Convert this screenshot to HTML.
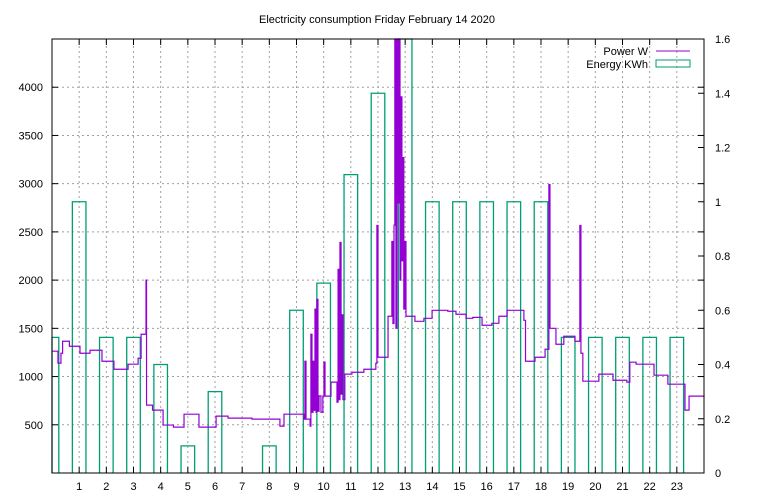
<!DOCTYPE html>
<html><head><meta charset="utf-8"><style>
body{margin:0;background:#fff}
svg{display:block;font-family:"Liberation Sans",sans-serif;font-size:11px}
</style></head><body>
<svg id="chart" width="768" height="500">
<text x="377" y="23" text-anchor="middle">Electricity consumption Friday February 14 2020</text>
<g id="grid"></g>
<g id="bars"></g>
<g id="line"></g>
<rect x="52" y="39" width="652" height="434" fill="none" stroke="#000" stroke-width="1"/>
<g id="axes"></g>
<g>
<text x="648" y="55" text-anchor="end">Power W</text>
<line x1="656" y1="51" x2="690" y2="51" stroke="#9400d3" stroke-width="1"/>
<text x="648" y="68" text-anchor="end">Energy KWh</text>
<rect x="656" y="60" width="34" height="7" fill="none" stroke="#009e73" stroke-width="1"/>
</g>
</svg>
<script>
const hours=[0,1,2,3,4,5,6,7,8,9,10,11,12,13,14,15,16,17,18,19,20,21,22,23];
const energy=[0.5,1.0,0.5,0.5,0.4,0.1,0.3,0,0.1,0.6,0.7,1.1,1.4,1.7,1.0,1.0,1.0,1.0,1.0,0.5,0.5,0.5,0.5,0.5];
const powerTimes=[0.00,0.22,0.33,0.39,0.64,1.03,1.40,1.84,2.28,2.80,3.17,3.28,3.46,3.48,3.70,4.09,4.47,4.86,5.41,6.04,6.48,7.36,8.39,8.54,9.27,9.31,9.35,9.50,9.53,9.57,9.61,9.64,9.68,9.72,9.75,9.79,9.83,9.90,9.97,10.01,10.05,10.27,10.49,10.53,10.57,10.60,10.64,10.67,10.71,10.78,11.04,11.48,11.92,11.96,12.00,12.37,12.51,12.55,12.59,12.62,12.66,12.70,12.73,12.77,12.81,12.84,12.88,12.92,12.95,12.99,13.03,13.36,13.69,13.99,14.57,14.87,15.24,15.49,15.83,16.19,16.45,16.75,17.37,17.43,17.78,18.15,18.29,18.33,18.55,18.84,19.25,19.43,19.47,19.54,20.13,20.65,21.16,21.27,21.50,22.16,22.67,23.30,23.45,24.00];
const powerWatts=[1263,1139,1242,1366,1314,1242,1273,1159,1076,1128,1190,1439,2000,704,652,497,476,610,476,590,569,559,486,610,559,1159,559,486,1439,630,1159,650,1700,630,1800,640,800,630,797,1150,797,942,735,2111,760,2390,818,1640,760,1025,1045,1076,1138,2566,1200,1625,2400,1550,2570,4500,1500,4500,2800,4500,2000,3900,2200,3270,1700,2400,1625,1573,1604,1687,1677,1646,1604,1614,1532,1552,1625,1687,1583,1159,1200,1283,2990,1500,1335,1418,1366,2566,1242,952,1025,962,942,1149,1128,1014,921,652,797,787];
const xTicks=[1,2,3,4,5,6,7,8,9,10,11,12,13,14,15,16,17,18,19,20,21,22,23];
const yTicks=[500,1000,1500,2000,2500,3000,3500,4000];
const y2Ticks=[0,0.2,0.4,0.6,0.8,1,1.2,1.4,1.6];
const X0=52,X1=704,Y0=473,Y1=39;
const xs=h=>X0+(X1-X0)*h/24;
const ys=w=>Y0-(Y0-Y1)*w/4500;
const y2=e=>Y0-(Y0-Y1)*e/1.6;
const NS="http://www.w3.org/2000/svg";
function mk(t,a,p){const e=document.createElementNS(NS,t);for(const k in a)e.setAttribute(k,a[k]);p.appendChild(e);return e;}
const grid=document.getElementById('grid'),axes=document.getElementById('axes');
xTicks.forEach(h=>{const x=xs(h);
 const g=mk('line',{x1:x,y1:Y0,x2:x,y2:Y1,stroke:'#a0a0a0','stroke-dasharray':'2,3'},grid);
 
 
 mk('line',{x1:x,y1:Y0,x2:x,y2:Y0-6,stroke:'#000'},axes);
 mk('line',{x1:x,y1:Y1,x2:x,y2:Y1+6,stroke:'#000'},axes);
 const t=mk('text',{x:x,y:Y0+17,'text-anchor':'middle'},axes);t.textContent=h;
 
 
});
yTicks.forEach(v=>{const y=ys(v);
 const g=mk('line',{x1:X0,y1:y,x2:X1,y2:y,stroke:'#a0a0a0','stroke-dasharray':'2,3'},grid);
 
 
 mk('line',{x1:X0,y1:y,x2:X0+6,y2:y,stroke:'#000'},axes);
 mk('line',{x1:X1,y1:y,x2:X1-6,y2:y,stroke:'#000'},axes);
 const t=mk('text',{x:X0-9,y:y+4,'text-anchor':'end'},axes);t.textContent=v;
 
 
});
y2Ticks.forEach(v=>{const y=y2(v);
 mk('line',{x1:X1,y1:y,x2:X1-6,y2:y,stroke:'#000'},axes);
 const t=mk('text',{x:X1+11,y:y+4,'text-anchor':'start'},axes);t.textContent=v;
 
 
});
const bars=document.getElementById('bars');
hours.forEach((h,i)=>{if(energy[i]<=0)return;
 let l=Math.max(X0,xs(h-0.25)),r=Math.min(X1,xs(h+0.25)),top=Math.max(Y1,y2(energy[i]));
 const p=mk('path',{d:`M${l},${Y0}V${top}H${r}V${Y0}`,fill:'none',stroke:'#009e73','stroke-width':1.3},bars);
 
 
});
let d='';
powerTimes.forEach((t,i)=>{const x=xs(t),y=Math.max(Y1,ys(powerWatts[i]));
 if(i===0)d+=`M${x},${y}`;else d+=`H${x}V${y}`;});
d+=`H${X1}`;
const pl=mk('path',{d:d,fill:'none',stroke:'#9400d3','stroke-width':1.2},document.getElementById('line'));


</script>
</body></html>
